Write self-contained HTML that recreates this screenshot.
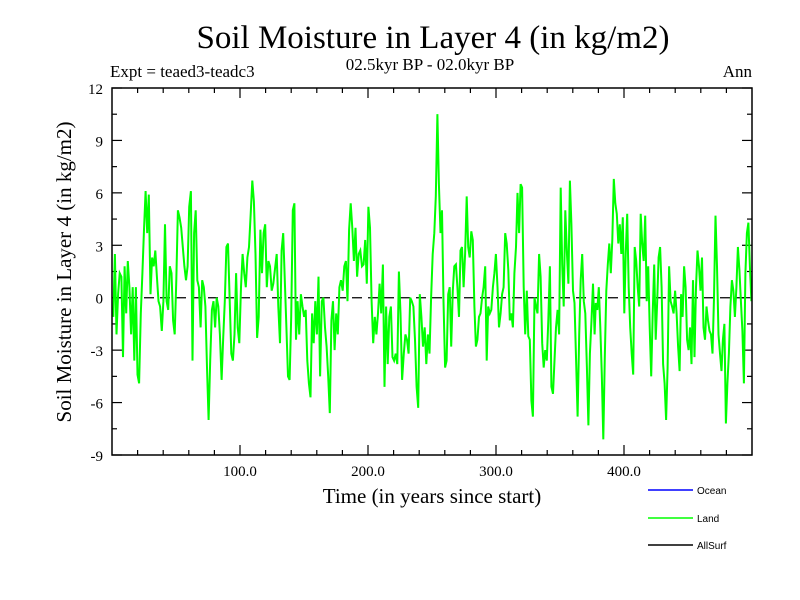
<!DOCTYPE html>
<html><head><meta charset="utf-8"><style>
html,body{margin:0;padding:0;background:#fff;}
svg{display:block;}
.s{font-family:"Liberation Serif",serif;fill:#000;}
.a{font-family:"Liberation Sans",sans-serif;fill:#000;font-size:10px;}
</style></head><body>
<svg id="chart" width="800" height="600" viewBox="0 0 800 600">
<text class="s" x="433" y="48" font-size="33" text-anchor="middle">Soil Moisture in Layer 4 (in kg/m2)</text>
<text class="s" x="110" y="77" font-size="17">Expt = teaed3-teadc3</text>
<text class="s" x="430" y="70" font-size="17" text-anchor="middle">02.5kyr BP - 02.0kyr BP</text>
<text class="s" x="752" y="77" font-size="17" text-anchor="end">Ann</text>
<g id="ticks"></g>
<g id="series"></g>
<rect x="112" y="88" width="640" height="367" fill="none" stroke="#000" stroke-width="1.5"/>
<text class="s" x="432" y="503" font-size="21" text-anchor="middle">Time (in years since start)</text>
<text class="s" transform="translate(71,272) rotate(-90)" font-size="21" text-anchor="middle">Soil Moisture in Layer 4 (in kg/m2)</text>
<g>
<line x1="648" y1="490" x2="693" y2="490" stroke="#0000ff" stroke-width="1.5"/>
<text class="a" x="697" y="494">Ocean</text>
<line x1="648" y1="518" x2="693" y2="518" stroke="#00ff00" stroke-width="1.5"/>
<text class="a" x="697" y="522">Land</text>
<line x1="648" y1="545" x2="693" y2="545" stroke="#000" stroke-width="1.5"/>
<text class="a" x="697" y="549">AllSurf</text>
</g>
</svg>
<script>
const yTicks = [-9,-6,-3,0,3,6,9,12];
const xTicks = [100,200,300,400];
const xTickLabels = ["100.0","200.0","300.0","400.0"];
// year span covered by each block of values
const segStartYear = [1, 128.7, 253, 378];
const segEndYear = [126, 251.8, 377, 499.5];
const land1 = [-1.1,2.5,-2.1,0.2,1.4,1.2,-3.4,1.8,-0.9,2.1,0.6,-2.1,0.6,-3.6,0.6,-4.4,-4.9,-0.9,1.4,3.9,6.1,3.7,5.9,0.2,2.3,1.8,2.7,1.2,-0.2,-0.5,-1.9,-0.2,4.2,-0.2,-0.7,1.8,1.4,-1.3,-2.1,1.0,5.0,4.6,4.0,2.9,1.8,1.0,1.8,5.2,6.1,-3.6,3.7,5.0,1.0,0.6,-1.7,1.0,0.6,-0.5,-4.0,-7.0,-3.6,-0.7,-0.2,-1.7,0.0,-0.5,-2.1,-4.7,-2.3,-0.2,2.9,3.1,0.0,-3.2,-3.6,-2.1,1.4,-1.7,-2.6,0.6,2.5,1.4,0.6,2.3,2.9,4.8,6.7,5.5,2.5,-2.3,-1.1,3.9,1.4,3.7,4.2,0.6,2.1,1.8,0.4,0.8];
const land2 = [2.5,-0.5,-2.6,2.7,3.7,1.0,-1.7,-4.5,-4.7,-1.1,5.0,5.4,-2.4,-0.2,-2.1,0.2,-0.5,-1.1,-0.7,-3.6,-4.9,-5.7,-0.9,-2.6,-0.2,-2.1,1.2,-4.5,-0.2,0.0,-1.7,-2.8,-4.5,-6.6,-1.3,-0.2,-3.0,-0.9,-2.1,0.6,1.0,0.4,1.8,2.1,-0.2,3.9,5.4,4.0,2.1,4.0,1.2,2.5,2.7,1.8,1.9,3.3,0.8,5.2,4.0,-0.2,-2.6,-1.1,-2.1,-0.9,0.8,-0.9,1.9,-5.1,-0.5,-3.8,-1.1,-0.5,-3.4,-3.6,-3.2,-3.8,1.5,-0.9,-4.7,-3.2,-2.1,-2.4,-3.2,0.0,-0.2,-0.5,-2.4,-5.1,-6.3,0.2,-1.1,-2.8,-1.7,-3.8,-2.1,-3.2,0.0,2.5,3.7];
const land3 = [5.8,10.5,6.5,3.7,5.0,-0.2,-4.0,-3.6,0.2,0.6,-2.8,0.4,1.8,1.9,0.6,-1.1,2.7,2.9,0.6,2.5,5.8,2.9,2.3,3.8,3.3,-0.5,-2.8,-2.4,-1.1,-0.9,0.0,0.6,1.8,-3.6,-0.5,-0.9,-0.7,0.6,1.4,2.5,0.6,-1.7,-0.9,0.2,0.6,3.7,3.1,1.6,-1.3,-0.9,-1.7,1.4,2.9,6.0,3.7,6.5,6.3,0.6,-2.1,0.4,-2.2,-2.4,-5.9,-6.8,0.0,-0.5,-0.9,2.5,1.2,-2.6,-4.0,-3.0,-3.6,-1.3,1.8,-5.1,-5.5,-3.6,-1.7,-0.7,-2.1,6.3,1.9,-0.5,5.0,2.7,0.8,6.7,4.2,0.4,-0.3,-3.6,-6.8,-2.1,1.0,2.5,-0.2,-0.9,-4.0,-7.3,-3.2,-1.3,0.8,-2.1];
const land4 = [-0.3,-0.7,0.6,-1.7,-4.4,-8.1,-3.4,0.4,1.9,3.1,1.4,3.3,6.8,5.4,4.8,3.1,4.2,2.5,4.6,-0.9,2.5,4.8,0.6,-1.7,-3.2,-4.4,2.9,2.1,0.6,-0.5,4.8,3.1,2.1,4.7,-0.2,1.8,-1.7,-4.5,-0.9,1.9,-2.4,-0.2,2.3,2.9,0.6,-3.8,-4.9,-7.0,-4.0,1.8,-0.2,-0.5,-0.9,0.4,-0.9,-2.8,-4.2,0.2,-1.1,1.8,0.6,-2.4,-3.0,-1.7,-3.8,1.0,-3.4,0.6,2.7,1.8,0.4,2.3,-1.7,-2.4,-0.5,-1.3,-1.9,-2.1,-3.2,0.0,4.7,1.8,-2.1,-3.2,-4.2,-2.4,-1.5,-7.2,-4.9,-3.2,-0.5,1.0,0.4,-1.1,0.6,2.9,1.6,-0.2,-1.9,-4.9,1.4,3.7,4.3,1.8,-0.2];
const landSegments = [land1, land2, land3, land4];
const NS="http://www.w3.org/2000/svg";
const X0=112,X1=752,Y0=455,Y1=88;
const xScale=v=>X0+(v-0)/(500-0)*(X1-X0);
const yScale=v=>Y0-(v+9)/21*(Y0-Y1);
function mk(tag,attrs,parent){const e=document.createElementNS(NS,tag);for(const k in attrs)e.setAttribute(k,attrs[k]);parent.appendChild(e);return e;}
const tg=document.getElementById('ticks');
for(let v=-9;v<=12;v+=1.5){
  const y=yScale(v);const len=(Math.abs(v%3)<1e-6)?10:5;
  const l1=mk('line',{x1:X0,y1:y,x2:X0+len,y2:y,stroke:'#000','stroke-width':1.2},tg);
  
  
  const l2=mk('line',{x1:X1,y1:y,x2:X1-len,y2:y,stroke:'#000','stroke-width':1.2},tg);
  
  
}
yTicks.forEach(v=>{
  const t=mk('text',{x:103,y:yScale(v)+6,'text-anchor':'end','font-size':15,class:'s'},tg);
  t.textContent=String(v);
  
  
});
for(let v=20;v<500;v+=20){
  const x=xScale(v);const len=(v%100===0)?10:5;
  const a=mk('line',{x1:x,y1:Y0,x2:x,y2:Y0-len,stroke:'#000','stroke-width':1.2},tg);
  
  
  const b=mk('line',{x1:x,y1:Y1,x2:x,y2:Y1+len,stroke:'#000','stroke-width':1.2},tg);
  
  
}
xTicks.forEach((v,i)=>{
  const t=mk('text',{x:xScale(v),y:476,'text-anchor':'middle','font-size':15,class:'s'},tg);
  t.textContent=xTickLabels[i];
  
  
});
const sg=document.getElementById('series');
const z=mk('line',{x1:X0,y1:yScale(0),x2:X1,y2:yScale(0),stroke:'#000','stroke-width':1.2,'stroke-dasharray':'10,6'},sg);


const pts=[];
landSegments.forEach((seg,s)=>{
  const a=segStartYear[s],b=segEndYear[s],n=seg.length;
  seg.forEach((v,i)=>{
    const yr=a+(b-a)*i/(n-1);
    pts.push(xScale(yr).toFixed(1)+','+yScale(v).toFixed(1));
  });
});
const pl=mk('polyline',{points:pts.join(' '),fill:'none',stroke:'#00ff00','stroke-width':2,'stroke-linejoin':'miter'},sg);


</script>
</body></html>
